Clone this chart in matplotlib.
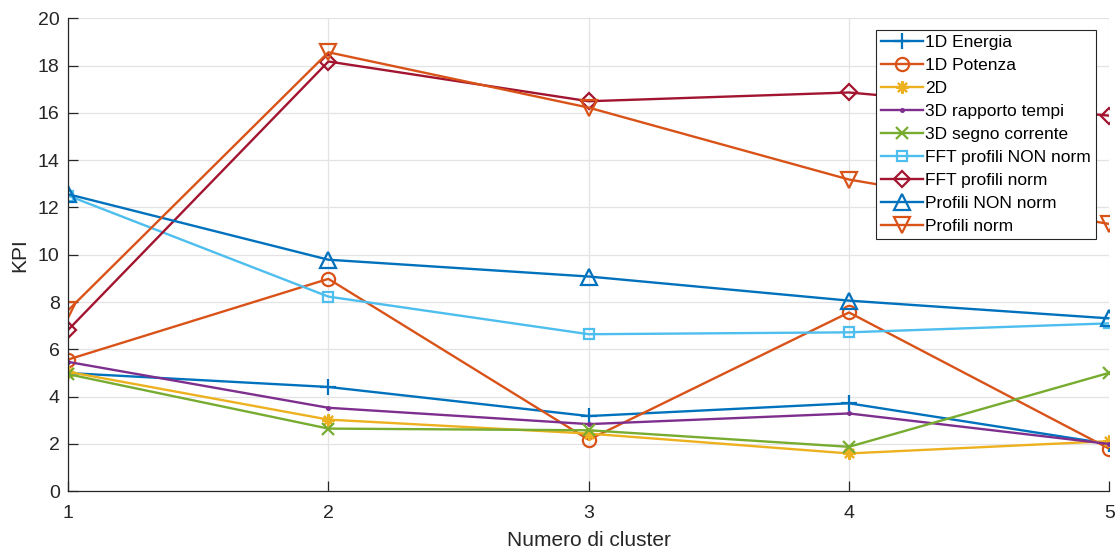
import matplotlib
matplotlib.use('Agg')
from matplotlib import pyplot as plt

# KPI per number of clusters
clusters = [1, 2, 3, 4, 5]
energia_1d = [5.0, 4.41, 3.18, 3.72, 2.0]
potenza_1d = [5.57, 8.98, 2.18, 7.56, 1.8]
kpi_2d = [5.05, 3.03, 2.44, 1.6, 2.12]
rapporto_tempi_3d = [5.47, 3.53, 2.84, 3.29, 2.0]
segno_corrente_3d = [4.95, 2.65, 2.58, 1.88, 5.01]
fft_non_norm = [12.5, 8.23, 6.64, 6.72, 7.1]
fft_norm = [6.82, 18.17, 16.49, 16.86, 15.88]
profili_non_norm = [12.56, 9.79, 9.08, 8.06, 7.31]
profili_norm = [7.65, 18.56, 16.22, 13.18, 11.3]

labels = ['1D Energia', '1D Potenza', '2D', '3D rapporto tempi', '3D segno corrente',
          'FFT profili NON norm', 'FFT profili norm', 'Profili NON norm', 'Profili norm']

plt.rcParams['font.family'] = ['Liberation Sans', 'DejaVu Sans']

# matlab default line colours
palette = ['#0072BD', '#D95319', '#EDB120', '#7E2F8E', '#77AC30',
           '#4DBEEE', '#A2142F', '#0072BD', '#D95319']
series = [energia_1d, potenza_1d, kpi_2d, rapporto_tempi_3d, segno_corrente_3d,
          fft_non_norm, fft_norm, profili_non_norm, profili_norm]
markers = ['+', 'o', (8, 2, 0), '.', 'x', 's', 'D', '^', 'v']
msizes = [11, 9.5, 9, 4, 8, 6.5, 8.5, 11, 11]

fig = plt.figure(figsize=(11.16, 5.52), dpi=100)
ax = fig.add_axes([0.061, 0.11, 0.933, 0.857])

for ys, c, m, ms, lab in zip(series, palette, markers, msizes, labels):
    ax.plot(clusters, ys, color=c, marker=m, markersize=ms, markerfacecolor='none',
            markeredgecolor=c, markeredgewidth=1.6, linewidth=1.7, label=lab)

ax.set_xlim(1, 5)
ax.set_ylim(0, 20)
ax.set_xticks(clusters)
ax.set_yticks(range(0, 21, 2))
ax.grid(True, color='#e3e3e3', linewidth=0.9)
ax.set_axisbelow(True)
for side in ['top', 'right']:
    ax.spines[side].set_visible(False)
for side in ['left', 'bottom']:
    ax.spines[side].set_color('#262626')
    ax.spines[side].set_linewidth(0.9)
ax.tick_params(direction='in', length=7, width=0.9, colors='#262626', labelsize=14)
ax.tick_params(axis='x', pad=10)
ax.tick_params(axis='y', pad=6)
ax.set_xlabel('Numero di cluster', fontsize=15, color='#262626', labelpad=6)
ax.set_ylabel('KPI', fontsize=15, color='#262626', labelpad=6)

leg = ax.legend(loc='upper right', bbox_to_anchor=(0.987, 0.975), fontsize=12.5,
                frameon=True, fancybox=False, framealpha=1, edgecolor='#262626',
                handlelength=2.4, handletextpad=0.1, labelspacing=0.45,
                borderpad=0.3, borderaxespad=0)
leg.get_frame().set_linewidth(0.8)

plt.savefig('out.png', dpi=100)
